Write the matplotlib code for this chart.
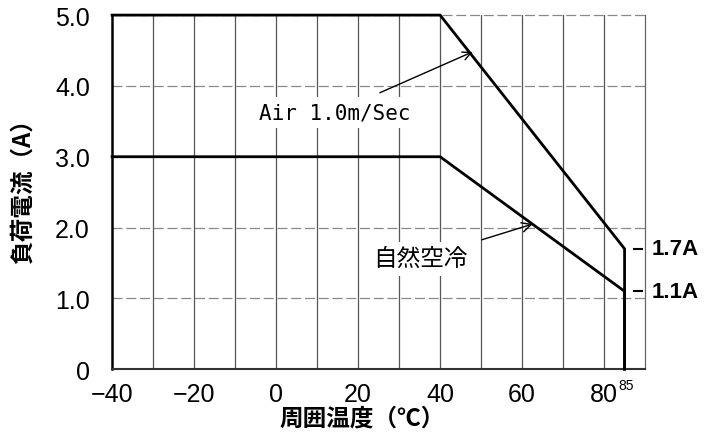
import matplotlib
matplotlib.use("Agg")
import matplotlib.pyplot as plt

# derating curves (temperature degC, load current A)
temp_air = [-40, 40, 85, 85]
amp_air = [5.0, 5.0, 1.7, 0.0]
temp_nat = [-40, 40, 85, 85]
amp_nat = [3.0, 3.0, 1.1, 0.0]

xticks = [-40, -20, 0, 20, 40, 60, 80]
yticks = [0, 1.0, 2.0, 3.0, 4.0, 5.0]
ytick_labels = ["0", "1.0", "2.0", "3.0", "4.0", "5.0"]
end_labels = ["1.7A", "1.1A"]

jp = ["Noto Sans CJK JP", "DejaVu Sans"]
num_font = ["Liberation Sans", "DejaVu Sans"]

fig = plt.figure(figsize=(7.05, 4.35), dpi=100)
ax = fig.add_axes([0.159, 0.149, 0.756, 0.814])
ax.set_xlim(-40, 90)
ax.set_ylim(0, 5)

# grid
for gx in range(-30, 90, 10):
    ax.axvline(gx, color="#555555", lw=0.9, zorder=1)
for gy in [1.0, 2.0, 4.0]:
    ax.axhline(gy, color="#888888", lw=0.9, ls=(0, (8, 3)), zorder=1)
ax.axhline(5.0, color="#888888", lw=0.9, ls=(0, (8, 3)), zorder=1, clip_on=False)

ax.plot(temp_air, amp_air, color="black", lw=2.0, zorder=4, clip_on=False)
ax.plot(temp_nat, amp_nat, color="black", lw=2.0, zorder=4, clip_on=False)

ax.spines["left"].set_linewidth(1.8)
ax.spines["bottom"].set_linewidth(1.5)
ax.spines["bottom"].set_color("#333333")
ax.spines["right"].set_color("#666666")
ax.spines["right"].set_linewidth(0.9)
ax.spines["top"].set_visible(False)

ax.set_xticks(xticks)
ax.set_xticklabels([str(t).replace("-", "\u2212") for t in xticks], family=num_font, fontsize=18)
ax.set_yticks(yticks)
ax.set_yticklabels(ytick_labels, family=num_font, fontsize=18)
ax.tick_params(axis="x", length=0, pad=9)
ax.tick_params(axis="y", length=0, pad=16)
ax.text(85.3, -0.13, "85", family=num_font, fontsize=10, ha="center", va="top")

ax.text(0.469, -0.136, "周囲温度（℃）", transform=ax.transAxes, family=jp, fontsize=17,
        fontweight="bold", ha="center", va="center")
ax.text(-0.168, 0.52, "負荷電流（A）", transform=ax.transAxes, family=jp, fontsize=17,
        fontweight="bold", ha="center", va="center", rotation=90)

# labels at the right end
for val, lab in zip([amp_air[2], amp_nat[2]], end_labels):
    ax.plot([87.2, 89.2], [val, val], color="black", lw=1.5, zorder=3)
    ax.text(91.5, val, lab, family=num_font, fontsize=16, fontweight="bold", va="center", ha="left")

bbox = dict(facecolor="white", edgecolor="none", pad=4)
ax.annotate("Air 1.0m/Sec", xy=(47.9, 4.48), xytext=(14.2, 3.62), family="DejaVu Sans Mono",
            fontsize=15, ha="center", va="center", bbox=bbox, zorder=5,
            arrowprops=dict(arrowstyle="->", color="black", lw=1.0, shrinkA=8, shrinkB=0))
ax.annotate("自然空冷", xy=(62.6, 2.05), xytext=(35.3, 1.56), family=jp,
            fontsize=17, ha="center", va="center", bbox=bbox, zorder=5,
            arrowprops=dict(arrowstyle="->", color="black", lw=1.0, shrinkA=6, shrinkB=0))

fig.savefig("out.png", dpi=100, facecolor="white")
